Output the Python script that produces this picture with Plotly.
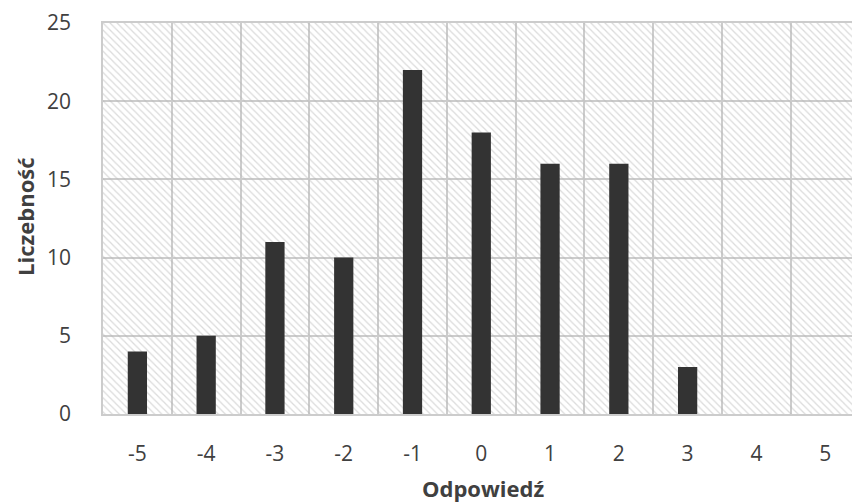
import plotly.graph_objects as go

# Response scale and how many answers fell on each value
odpowiedzi = [-5, -4, -3, -2, -1, 0, 1, 2, 3, 4, 5]
liczebnosc = [4, 5, 11, 10, 22, 18, 16, 16, 3, 0, 0]
y_ticks = [0, 5, 10, 15, 20, 25]
x_tick_labels = [str(v) for v in odpowiedzi]

FONT = "Open Sans"
TEXT = "#404040"
GRID = "#cccccc"

fig = go.Figure()

# hatched plot background (single wide bar spanning the full axis range)
fig.add_trace(go.Bar(
    x=[0], y=[25], width=[11],
    marker=dict(
        color="rgba(0,0,0,0)",
        line=dict(width=0),
        pattern=dict(shape="\\", fgcolor="#b8b8b8", bgcolor="rgba(0,0,0,0)",
                     size=5, solidity=0.25),
    ),
    hoverinfo="skip", showlegend=False,
))

# frequency bars
fig.add_trace(go.Bar(
    x=odpowiedzi, y=liczebnosc, width=0.28,
    marker=dict(color="#333333", line=dict(width=0)),
    showlegend=False,
))

fig.update_layout(
    width=852, height=502,
    margin=dict(l=103, r=0, t=23, b=88),
    paper_bgcolor="white", plot_bgcolor="white",
    barmode="overlay",
    font=dict(family=FONT, size=21, color=TEXT),
    xaxis=dict(
        range=[-5.5, 5.39],
        tickmode="array", tickvals=odpowiedzi, ticktext=x_tick_labels,
        showgrid=False, zeroline=False,
        showline=True, mirror=True, linecolor=GRID, linewidth=1.5,
        ticks="", ticklabelstandoff=20,
        minor=dict(tickmode="array",
                   tickvals=[v + 0.5 for v in odpowiedzi[:-1]],
                   showgrid=True, gridcolor=GRID, gridwidth=1.5, ticks=""),
        fixedrange=True,
    ),
    yaxis=dict(
        range=[0, 25],
        tickmode="array", tickvals=y_ticks,
        showgrid=True, gridcolor=GRID, gridwidth=1.5,
        zeroline=False,
        showline=True, linecolor=GRID, linewidth=1.5,
        ticks="", ticklabelstandoff=26,
        fixedrange=True,
    ),
    annotations=[
        dict(text="<b>Liczebność</b>", textangle=-90,
             xref="paper", yref="paper", x=(25 - 103) / 749, y=0.504,
             xanchor="center", yanchor="middle", showarrow=False,
             font=dict(family=FONT, size=22, color=TEXT)),
        dict(text="<b>Odpowiedź</b>",
             xref="paper", yref="paper", x=0.507, y=(414 - 488) / 391,
             xanchor="center", yanchor="middle", showarrow=False,
             font=dict(family=FONT, size=22, color=TEXT)),
    ],
)

fig.write_html("out.html")
